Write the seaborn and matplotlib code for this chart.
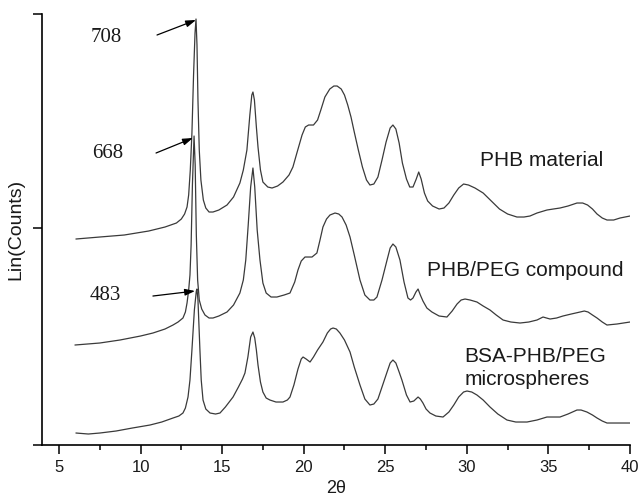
import numpy as np
import pandas as pd
import seaborn as sns
import matplotlib.pyplot as plt

# 2theta / intensity (arbitrary units, curves already offset)
theta_phb = [6.04, 7.5, 9.0, 10.5, 11.5, 12.2, 12.5, 12.7, 12.85, 12.95, 13.05, 13.15, 13.25, 13.34, 13.40,
             13.46, 13.52, 13.6, 13.7, 13.85, 14.0, 14.2, 14.44, 14.8, 15.3, 15.7, 16.09, 16.3, 16.52, 16.7,
             16.82, 16.89, 16.98, 17.1, 17.2, 17.35, 17.5, 17.8, 18.06, 18.4, 18.73, 19.1, 19.34, 19.6, 19.9,
             20.1, 20.3, 20.6, 20.85, 21.05, 21.3, 21.6, 21.85, 22.05, 22.3, 22.5, 22.7, 22.9, 23.1, 23.35,
             23.6, 23.85, 24.06, 24.3, 24.55, 24.8, 25.05, 25.3, 25.47, 25.65, 25.85, 26.05, 26.3, 26.5, 26.7,
             26.9, 27.05, 27.2, 27.4, 27.6, 27.9, 28.3, 28.6, 28.9, 29.2, 29.5, 29.8, 30.1, 30.5, 31.0, 31.5,
             32.0, 32.5, 33.07, 33.5, 33.87, 34.3, 34.91, 35.3, 35.71, 36.2, 36.75, 37.1, 37.4, 37.7, 37.98,
             38.3, 38.59, 39.0, 39.39, 40.0]
int_phb = [206, 208, 210, 214, 218, 222, 226, 231, 238, 250, 275, 312, 370, 412, 426,
           400, 345, 295, 265, 245, 237, 233, 233, 235, 240, 248, 262, 275, 295, 330,
           350, 353, 345, 318, 298, 275, 263, 258, 257, 259, 263, 270, 278, 293, 310,
           318, 320, 320, 325, 335, 348, 356, 359, 359, 356, 350, 340, 328, 313, 295,
           278, 265, 260, 261, 268, 285, 303, 317, 320, 316, 302, 282, 266, 258, 258,
           266, 273, 266, 252, 244, 239, 236, 237, 242, 250, 257, 261, 260, 257, 252, 244,
           236, 231, 228, 228, 229, 232, 235, 236, 237, 239, 242, 242, 240, 236, 231,
           227, 225, 225, 227, 229]

theta_peg = [5.98, 7.5, 8.74, 10.0, 10.76, 11.5, 11.99, 12.3, 12.6, 12.75, 12.85, 12.95, 13.03, 13.1, 13.18,
             13.28, 13.35, 13.42, 13.5, 13.6, 13.75, 13.95, 14.2, 14.44, 14.8, 15.3, 15.7, 16.09, 16.3, 16.45,
             16.6, 16.75, 16.89, 17.0, 17.15, 17.32, 17.5, 17.7, 18.0, 18.36, 18.8, 19.16, 19.45, 19.65, 19.85,
             20.08, 20.3, 20.51, 20.81, 21.0, 21.18, 21.4, 21.61, 21.92, 22.15, 22.35, 22.6, 22.84, 23.1, 23.45,
             23.75, 24.06, 24.3, 24.49, 24.8, 25.11, 25.3, 25.47, 25.65, 25.9, 26.15, 26.39, 26.55, 26.7, 26.88,
             27.01, 27.15, 27.31, 27.55, 27.86, 28.3, 28.78, 29.1, 29.4, 29.65, 29.89, 30.2, 30.62, 31.0, 31.42,
             31.8, 32.22, 32.7, 33.26, 33.8, 34.30, 34.67, 35.10, 35.5, 35.89, 36.4, 36.94, 37.2, 37.43, 37.7,
             37.98, 38.3, 38.59, 39.2, 40.0]
int_peg = [100, 102, 105, 109, 112, 116, 120, 123, 127, 133, 142, 155, 170, 200, 260,
           309, 280, 210, 165, 145, 136, 130, 127, 127, 129, 133, 140, 152, 165, 185,
           220, 258, 277, 258, 215, 185, 162, 152, 148, 148, 150, 152, 163, 175, 184,
           188, 188, 188, 192, 205, 218, 226, 230, 232, 231, 228, 220, 208, 190, 165,
           150, 145, 145, 148, 165, 185, 197, 201, 198, 185, 163, 147, 145, 147, 153,
           156, 150, 144, 137, 133, 129, 128, 134, 141, 145, 146, 145, 143, 139, 135,
           130, 125, 123, 122, 123, 125, 128, 126, 127, 129, 131, 133, 134, 133, 130,
           127, 123, 120, 121, 123]

theta_bsa = [6.04, 6.8, 7.51, 8.5, 9.5, 10.58, 11.3, 11.99, 12.35, 12.6, 12.75, 12.91, 13.03, 13.15, 13.3,
             13.42, 13.46, 13.52, 13.58, 13.64, 13.72, 13.83, 14.0, 14.26, 14.6, 14.87, 15.2, 15.67, 16.0, 16.25,
             16.40, 16.58, 16.75, 16.89, 17.0, 17.1, 17.2, 17.35, 17.5, 17.7, 17.93, 18.3, 18.73, 19.0, 19.16,
             19.4, 19.65, 19.85, 19.96, 20.15, 20.39, 20.6, 20.85, 21.18, 21.45, 21.65, 21.80, 22.0, 22.22, 22.5,
             22.84, 23.1, 23.45, 23.75, 24.06, 24.3, 24.55, 24.8, 25.11, 25.3, 25.47, 25.65, 25.85, 26.02, 26.3,
             26.52, 26.75, 27.01, 27.15, 27.31, 27.5, 27.74, 28.1, 28.54, 28.9, 29.2, 29.5, 29.8, 30.01, 30.3,
             30.62, 31.0, 31.42, 31.9, 32.46, 33.0, 33.69, 34.3, 34.91, 35.3, 35.71, 36.2, 36.75, 37.0, 37.36,
             37.7, 37.98, 38.3, 38.59, 39.3, 40.0]
int_bsa = [12, 11, 12, 14, 17, 20, 23, 27, 29, 32, 37, 48, 65, 95, 135,
           154, 156, 145, 120, 95, 65, 45, 36, 32, 31, 32, 38, 48, 58, 66,
           72, 88, 108, 113, 107, 95, 80, 63, 53, 47, 45, 43, 43, 45, 48,
           60, 76, 86, 88, 86, 83, 88, 95, 103, 112, 116, 117, 116, 112, 105,
           93, 78, 60, 46, 40, 41, 46, 58, 73, 82, 85, 82, 73, 65, 50,
           43, 44, 48, 46, 42, 36, 32, 29, 28, 33, 40, 48, 53, 54, 53,
           50, 45, 38, 31, 25, 23, 23, 25, 28, 28, 28, 31, 35, 35, 33,
           30, 27, 24, 22, 22, 22]

peak_labels = ["708", "668", "483"]
peak_tips = [(13.40, 425), (13.21, 307), (13.34, 154)]
sample_names = ["PHB material", "PHB/PEG compound", "BSA-PHB/PEG\nmicrospheres"]

sns.set_style("ticks")
plt.rcParams["font.family"] = ["Liberation Sans", "DejaVu Sans"]

fig = plt.figure(figsize=(6.42, 4.97), dpi=100)
ax = fig.add_axes([0.0654, 0.1046, 0.9159, 0.8672])

line_col = "#3a3a3a"
for th, it in [(theta_phb, int_phb), (theta_peg, int_peg), (theta_bsa, int_bsa)]:
    sns.lineplot(x=th, y=it, ax=ax, color=line_col, linewidth=0.9, sort=False)

ax.set_xlim(3.96, 40)
ax.set_ylim(0, 431)
ax.set_xticks([5, 10, 15, 20, 25, 30, 35, 40])
ax.set_xticks(np.arange(7.5, 40, 5), minor=True)
ax.set_yticks([0, 217, 431])
ax.set_yticklabels([])
ax.tick_params(axis="both", which="major", direction="out", length=6.5, width=1.1, color="black")
ax.tick_params(axis="x", which="minor", direction="out", length=3.5, width=1.1, color="black")
ax.tick_params(axis="x", labelsize=12, pad=4, labelcolor="#1a1a1a")
for s in ["top", "right"]:
    ax.spines[s].set_visible(False)
for s in ["left", "bottom"]:
    ax.spines[s].set_linewidth(1.2)
    ax.spines[s].set_color("black")

ax.set_xlabel("2θ", fontsize=13, labelpad=4, color="#1a1a1a")
ax.set_ylabel("Lin(Counts)", fontsize=14, labelpad=3, color="#1a1a1a")

# peak value labels with arrows
label_pos = [(7.88, 408), (8.00, 292), (7.82, 150)]
tail_pos = [(11.01, 410), (10.95, 292), (10.76, 149)]
for lab, tip, tail, lp in zip(peak_labels, peak_tips, tail_pos, label_pos):
    ax.annotate("", xy=tip, xytext=tail,
                arrowprops=dict(arrowstyle="-|>,head_length=0.6,head_width=0.2", color="black", lw=0.9,
                                shrinkA=0, shrinkB=0))
    ax.text(lp[0], lp[1], lab, fontsize=15, family=["Liberation Serif"], ha="center", va="center",
            color="#1a1a1a")

ax.text(30.81, 285, sample_names[0], fontsize=15, ha="left", va="center", color="#1a1a1a")
ax.text(27.56, 175, sample_names[1], fontsize=15, ha="left", va="center", color="#1a1a1a")
ax.text(29.83, 77, sample_names[2], fontsize=15, ha="left", va="center", linespacing=1.3, color="#1a1a1a")

fig.savefig("out.png", dpi=100)
